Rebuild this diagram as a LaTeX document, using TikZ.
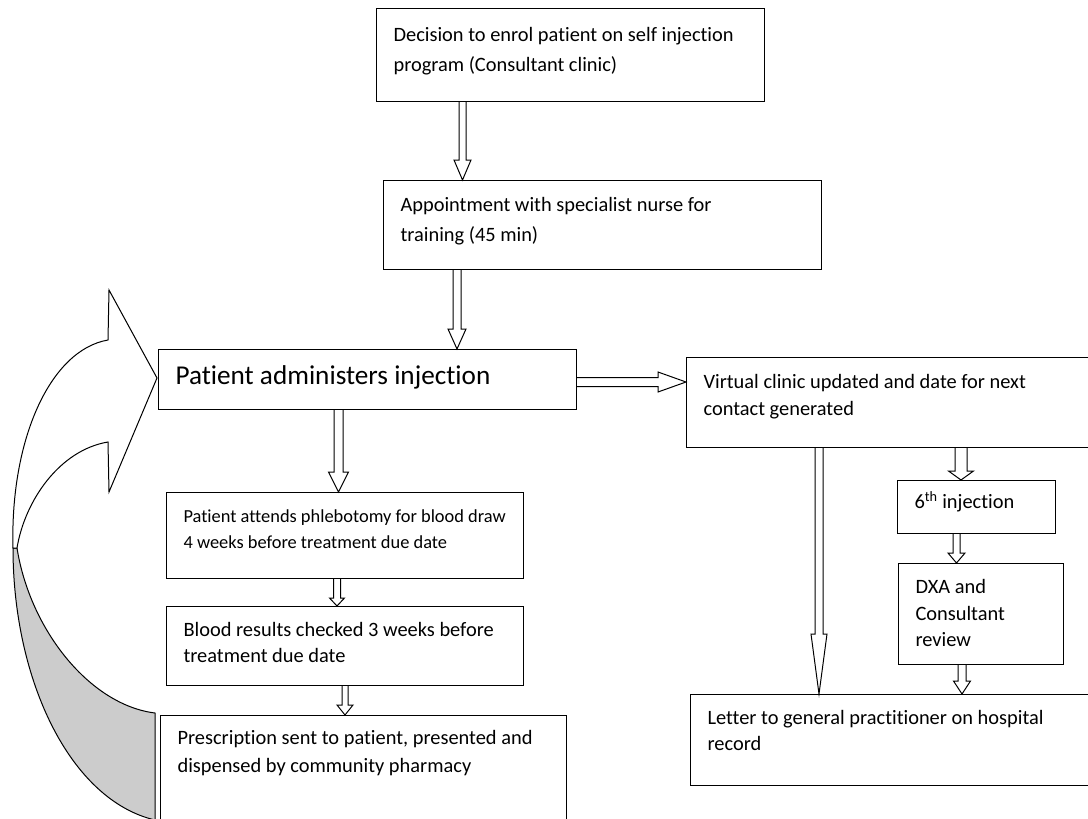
\documentclass[tikz,border=0pt]{standalone}
\usepackage{fontspec}
\setmainfont{Carlito}[Ligatures=NoCommon]
\usetikzlibrary{calc}

\definecolor{backgray}{RGB}{204,204,204}

% hollow block arrows: x or y, from, to, shaft half, head half, head length
\newcommand\hollowdown[6]{%
	\draw[hollow] let \p1=(#1,0 |- #2), \p2=(#1,0 |- #3) in
		(\x1-#4,\y1) -- (\x1-#4,\y2+#6) -- (\x1-#5,\y2+#6) -- (\x2,\y2)
		-- (\x1+#5,\y2+#6) -- (\x1+#4,\y2+#6) -- (\x1+#4,\y1);}
\newcommand\hollowright[6]{%
	\draw[hollow] let \p1=(#2 |- 0,#1), \p2=(#3 |- 0,#1) in
		(\x1,\y1+#4) -- (\x2-#6,\y1+#4) -- (\x2-#6,\y1+#5) -- (\x2,\y1)
		-- (\x2-#6,\y1-#5) -- (\x2-#6,\y1-#4) -- (\x1,\y1-#4);}

\begin{document}
\begin{tikzpicture}[
		x=1pt, y=-1pt,
		box/.style = {
			draw,
			line width = 1.1pt,
			anchor = north west,
			align = flush left,
			inner xsep = 2pt,
			inner ysep = 0pt,
			text height = 30pt,
			execute at begin node = {\leftskip=15pt},
			font = \fontsize{20.4}{30}\selectfont
		},
		hollow/.style = {
			draw,
			line width = 1pt,
			line join = miter
		},
		curl/.style = {
			draw,
			line width = 1pt
		}
	]
	\useasboundingbox (0,0) rectangle (1088,819);

	% curved return arrow
	\filldraw[curl, fill=backgray] (13,548) .. controls (13,680) and (70,800) .. (155,820)
		-- (155,713) .. controls (90,705) and (30,630) .. (17,548) -- cycle;
	\filldraw[curl, fill=white] (13,548) .. controls (10,440) and (50,350) .. (108,340)
		-- (109,290) -- (157,378) -- (109,492) -- (108,442)
		.. controls (60,450) and (25,500) .. (17,548) -- cycle;

	\node[box, text width=384pt, text height=33pt, text depth=60pt] (dec) at (376,8) {Decision to enrol patient on self injection\\program (Consultant clinic)};
	\node[box, text width=434pt, text height=31pt, text depth=58pt] (app) at (383,180) {Appointment with specialist nurse for\\training (45 min)};
	\node[box, text width=414pt, text height=35pt, text depth=25pt,
		font=\fontsize{27.2}{32}\selectfont]       (pat)    at (158,349) {Patient administers injection};
	\node[box, text width=405pt, text height=31pt, text depth=59pt,
		font=\fontsize{20.4}{27}\selectfont]       (virt)   at (686,357) {Virtual clinic updated and date for next\\contact generated};
	\node[box, text width=353pt, text height=30pt, text depth=56pt,
		font=\fontsize{18.4}{26}\selectfont]       (phleb)  at (166,492) {Patient attends phlebotomy for blood draw\\4 weeks before treatment due date};
	\node[box, text width=353pt, text height=30pt, text depth=49pt,
		font=\fontsize{20.4}{26}\selectfont]       (blood)  at (166,606) {Blood results checked 3 weeks before\\treatment due date};
	\node[box, text width=402pt, text height=29pt, text depth=81pt,
		font=\fontsize{20.4}{28}\selectfont]       (presc)  at (160,715) {Prescription sent to patient, presented and\\dispensed by community pharmacy};
	\node[box, text width=154pt, text height=28pt, text depth=25pt] (inj6) at (897,480) {6\textsuperscript{th} injection};
	\node[box, text width=161pt, text height=30pt, text depth=71pt,
		font=\fontsize{20.4}{26.5}\selectfont]     (dxa)    at (898,563) {DXA and\\Consultant\\review};
	\node[box, text width=401pt, text height=30pt, text depth=61pt,
		font=\fontsize{20.4}{26}\selectfont]       (letter) at (690,694) {Letter to general practitioner on hospital\\record};

	\hollowdown{462.5}{dec.south}{app.north}{3.5pt}{8.5pt}{20pt}
	\hollowdown{457}{app.south}{pat.north}{4pt}{9pt}{20pt}
	\hollowright{382}{pat.east}{virt.west}{4.5pt}{10pt}{28pt}
	\hollowdown{338.5}{pat.south}{phleb.north}{4.5pt}{10pt}{20pt}
	\hollowdown{337}{phleb.south}{blood.north}{3.5pt}{7.5pt}{8pt}
	\hollowdown{345}{blood.south}{presc.north}{3pt}{8pt}{10pt}
	\hollowdown{819}{virt.south}{letter.north}{4pt}{8pt}{60pt}
	\hollowdown{961}{virt.south}{inj6.north}{6pt}{12.5pt}{9pt}
	\hollowdown{956.5}{inj6.south}{dxa.north}{3.5pt}{8.5pt}{10pt}
	\hollowdown{962}{dxa.south}{letter.north}{4pt}{8.5pt}{13pt}
\end{tikzpicture}
\end{document}
